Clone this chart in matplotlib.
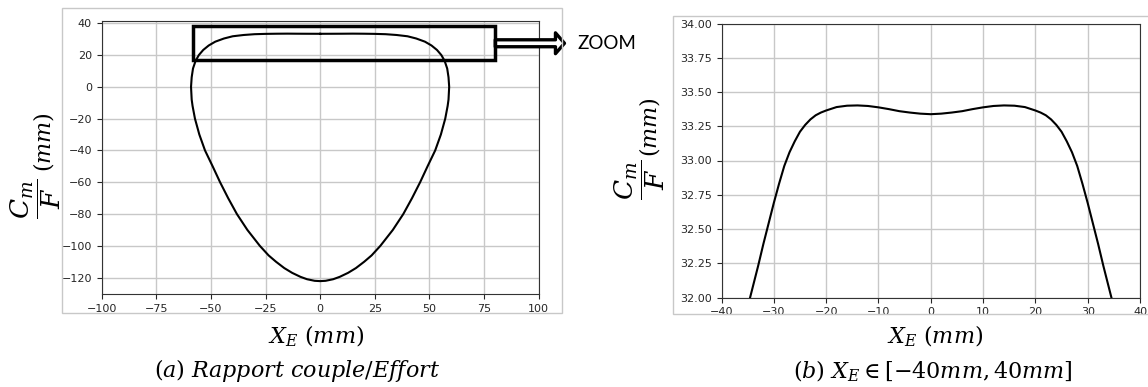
import matplotlib
matplotlib.use('Agg')
import matplotlib.pyplot as plt
from matplotlib.patches import Rectangle
from matplotlib.ticker import FormatStrFormatter

# ---- data: (a) full closed loop of Cm/F vs X_E ----
xa = [0, 5, 10, 15, 20, 25, 30, 35, 40, 44, 48, 51, 53.5, 55.5, 57, 58.2, 58.8, 59.1,
      58.8, 58.4, 57.3, 55.3, 52.7, 49.2, 45.8, 42.1, 38.1, 33.3, 27.6, 23.6, 20.2, 16.4, 12.8, 9, 6, 2.5, 0,
      -2.5, -6, -9, -12.8, -16.4, -20.2, -23.6, -27.6, -33.3, -38.1, -42.1, -45.8, -49.2, -52.7, -55.3, -57.3, -58.4, -58.8,
      -59.1, -58.8, -58.2, -57, -55.5, -53.5, -51, -48, -44, -40, -35, -30, -25, -20, -15, -10, -5, 0]
ya = [33.35, 33.37, 33.4, 33.45, 33.4, 33.3, 33.1, 32.6, 31.8, 30.4, 28.4, 26.0, 23.2, 20.0, 16.4, 11.5, 6, 0,
      -8, -12, -20, -30, -40, -50, -60, -70, -80, -90, -100, -106, -110, -114, -117, -119.5, -121, -122, -122.2,
      -122, -121, -119.5, -117, -114, -110, -106, -100, -90, -80, -70, -60, -50, -40, -30, -20, -12, -8,
      0, 6, 11.5, 16.4, 20.0, 23.2, 26.0, 28.4, 30.4, 31.8, 32.6, 33.1, 33.3, 33.4, 33.45, 33.4, 33.37, 33.35]

# ---- data: (b) zoom on X_E in [-40, 40] ----
xb = [-35, -34, -33, -32, -31, -30, -29, -28, -27, -26, -25, -24, -23, -22, -21, -20, -18, -16, -14,
      -12, -10, -8, -6, -4, -2, 0, 2, 4, 6, 8, 10, 12, 14, 16, 18, 20, 21, 22, 23, 24, 25, 26, 27,
      28, 29, 30, 31, 32, 33, 34, 35]
yb = [31.93, 32.08, 32.23, 32.39, 32.54, 32.69, 32.83, 32.96, 33.06, 33.14, 33.21, 33.26, 33.30, 33.33,
      33.35, 33.365, 33.39, 33.40, 33.402, 33.398, 33.388, 33.375, 33.36, 33.35, 33.342, 33.338,
      33.342, 33.35, 33.36, 33.375, 33.388, 33.398, 33.402, 33.40, 33.39, 33.365, 33.35, 33.33,
      33.30, 33.26, 33.21, 33.14, 33.06, 32.96, 32.83, 32.69, 32.54, 32.39, 32.23, 32.08, 31.93]

xticks_a = [-100, -75, -50, -25, 0, 25, 50, 75, 100]
yticks_a = [-120, -100, -80, -60, -40, -20, 0, 20, 40]
xticks_b = [-40, -30, -20, -10, 0, 10, 20, 30, 40]
yticks_b = [32.0, 32.25, 32.5, 32.75, 33.0, 33.25, 33.5, 33.75, 34.0]

plt.rcParams['mathtext.fontset'] = 'dejavuserif'

W, H = 1148, 387
fig = plt.figure(figsize=(W / 100, H / 100), dpi=100)
fig.patch.set_facecolor('white')


def fx(px):
    return px / W


def fy(py):
    return 1 - py / H


def box(l, t, r, b):
    return [fx(l), fy(b), (r - l) / W, (b - t) / H]


tick_col = '#262626'
grid_col = '#c8c8c8'

# screenshot frames
for (l, t, r, b) in [(62, 8, 562, 313), (672.7, 16, 1149, 314)]:
    fig.add_artist(Rectangle((fx(l), fy(b)), (r - l) / W, (b - t) / H,
                             transform=fig.transFigure, fill=False,
                             ec=grid_col, lw=1.0))

# ---- left axes ----
ax1 = fig.add_axes(box(101.7, 21, 538.5, 294))
ax1.plot(xa, ya, color='black', lw=1.5)
ax1.set_xlim(-100, 100)
ax1.set_ylim(-130.3, 41.4)
ax1.set_xticks(xticks_a)
ax1.set_yticks(yticks_a)
ax1.grid(True, color=grid_col, lw=1.0)
ax1.set_axisbelow(True)
ax1.tick_params(labelsize=8, colors=tick_col)
for s in ax1.spines.values():
    s.set_color('#333333')

# zoom box and arrow (annotation)
ax1.add_patch(Rectangle((-58.4, 16.9), 138.6, 21.4, fill=False, ec='black',
                        lw=2.5, clip_on=False, zorder=6))
ax1.annotate('', xy=(111.9, 27.4), xytext=(80.2, 27.4),
             arrowprops=dict(arrowstyle='simple,head_length=0.65,head_width=1.5,tail_width=0.5',
                             fc='white', ec='black', lw=2.4, shrinkA=0, shrinkB=0),
             annotation_clip=False, zorder=5)
fig.text(fx(577), fy(43.3), 'ZOOM', fontsize=13.5, family='Lato',
         va='center', ha='left', color='black')

# left y label: fraction + unit
fig.text(fx(36), fy(199), r'$\dfrac{C_m}{F}$', rotation=90, fontsize=19,
         ha='center', va='center')
fig.text(fx(44), fy(142), r'$(mm)$', rotation=90, fontsize=16,
         ha='center', va='center')
fig.text(fx(316), fy(336), r'$X_E\ (mm)$', fontsize=16, ha='center', va='center')
fig.text(fx(297), fy(371), r'$(a)\ Rapport\ couple/Effort$', fontsize=16,
         ha='center', va='center')

# ---- right axes ----
ax2 = fig.add_axes(box(721.5, 23.5, 1140, 297.5))
ax2.plot(xb, yb, color='black', lw=1.5)
ax2.set_xlim(-40, 40)
ax2.set_ylim(32, 34)
ax2.set_xticks(xticks_b)
ax2.set_yticks(yticks_b)
ax2.yaxis.set_major_formatter(FormatStrFormatter('%.2f'))
ax2.grid(True, color=grid_col, lw=1.0)
ax2.set_axisbelow(True)
ax2.tick_params(labelsize=8, colors=tick_col)
for s in ax2.spines.values():
    s.set_color('#333333')

fig.text(fx(640), fy(180), r'$\dfrac{C_m}{F}$', rotation=90, fontsize=19,
         ha='center', va='center')
fig.text(fx(650), fy(127), r'$(mm)$', rotation=90, fontsize=16,
         ha='center', va='center')
fig.text(fx(935), fy(336), r'$X_E\ (mm)$', fontsize=16, ha='center', va='center')
fig.text(fx(933), fy(371), r'$(b)\ X_E \in [-40mm, 40mm]$', fontsize=16,
         ha='center', va='center')

fig.savefig('out.png', dpi=100, facecolor='white')
